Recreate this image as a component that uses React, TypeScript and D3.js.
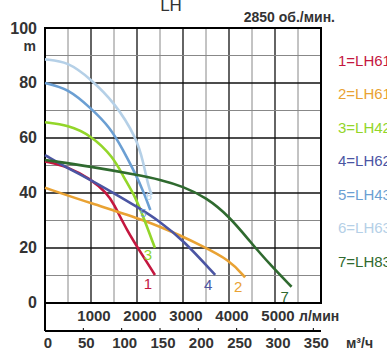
import React, { useEffect, useRef } from "react";
import * as d3 from "d3";

// pump curves, flow in l/min, head in m
const curve1 = [[0, 51.5], [500, 49.6], [1000, 45], [1340, 40], [1490, 36.3], [1775, 26.5], [2140, 16.8], [2390, 10.2]];
const curve2 = [[0, 41.9], [1000, 36.2], [2170, 30.2], [3000, 24.1], [3370, 21.1], [4020, 15.6], [4350, 9.3]];
const curve3 = [[0, 65.7], [500, 64.7], [1000, 61], [1490, 53], [1700, 46], [1920, 40], [2100, 33], [2390, 20]];
const curve4 = [[0, 53.8], [500, 49], [1000, 44.7], [1500, 39.9], [2000, 35], [2500, 29.6], [3000, 22.9], [3700, 10.2]];
const curve5 = [[0, 80], [500, 78], [1000, 70.8], [1410, 64], [1700, 55.6], [1960, 47.2], [2140, 40.5], [2290, 33.8]];
const curve6 = [[0, 88.6], [500, 87.8], [1000, 81.3], [1500, 73.2], [2000, 59.9], [2140, 50.8], [2250, 42.3], [2320, 39.3]];
const curve7 = [[0, 52], [1000, 49.6], [2000, 46.6], [2500, 44.9], [3000, 42.4], [3500, 38.4], [4000, 31.6], [4460, 22.3], [4890, 14], [5360, 5.9]];

const seriesNames = ["1=LH610", "2=LH611", "3=LH420", "4=LH620", "5=LH430", "6=LH630", "7=LH830"];
const seriesColors = ["#c4173f", "#e9a233", "#93d62a", "#4b55a3", "#6b9fd3", "#b5d0e7", "#2f6a2f"];
const seriesData = [curve1, curve2, curve3, curve4, curve5, curve6, curve7];

const headTicks = [0, 20, 40, 60, 80, 100];
const lpmTicks = [1000, 2000, 3000, 4000, 5000];
const m3hTicks = [0, 50, 100, 150, 200, 250, 300, 350];

const App = () => {
  const ref = useRef<SVGSVGElement>(null);

  useEffect(() => {
    document.body.style.margin = "0";
    const svg = d3.select(ref.current);
    svg.selectAll("*").remove();

    const left = 45, right = 321, top = 28, bottom = 303, axisBottom = 331;
    const x = d3.scaleLinear().domain([0, 6000]).range([left, right]);
    const xm = d3.scaleLinear().domain([0, 360]).range([left, right]);
    const y = d3.scaleLinear().domain([0, 100]).range([bottom, top]);
    const font = "'Liberation Sans', Arial, sans-serif";

    // grid
    const g = svg.append("g");
    d3.range(500, 6000, 500).forEach((v) => {
      const major = v % 1000 === 0;
      g.append("line")
        .attr("x1", x(v)).attr("x2", x(v)).attr("y1", top).attr("y2", bottom)
        .attr("stroke", major ? "#111" : "#888").attr("stroke-width", major ? 1.3 : 1);
    });
    d3.range(10, 100, 10).forEach((v) => {
      const major = v % 20 === 0;
      g.append("line")
        .attr("x1", left).attr("x2", right).attr("y1", y(v)).attr("y2", y(v))
        .attr("stroke", major ? "#111" : "#888").attr("stroke-width", major ? 1.3 : 1);
    });

    // frame
    g.append("path")
      .attr("d", `M${left},${axisBottom}V${top}H${right}V${bottom}H${left}M${left},${axisBottom}H${right}`)
      .attr("fill", "none").attr("stroke", "#000").attr("stroke-width", 2);

    // m3/h ticks
    m3hTicks.forEach((v) => {
      g.append("line")
        .attr("x1", xm(v)).attr("x2", xm(v)).attr("y1", axisBottom).attr("y2", axisBottom - 3)
        .attr("stroke", "#000").attr("stroke-width", 1);
    });

    // curves
    const line = d3.line<number[]>()
      .x((d) => x(d[0]))
      .y((d) => y(d[1]))
      .curve(d3.curveBasis);

    seriesData.forEach((data, i) => {
      svg.append("path")
        .attr("d", line(data))
        .attr("fill", "none")
        .attr("stroke", seriesColors[i])
        .attr("stroke-width", 2.6);
    });

    // curve number labels near the curve ends
    const labelOffsets = [[-7, 10], [-7, 11], [-7, 8], [-7, 11], [-7, 4], [-3, 2], [-7, 11]];
    seriesData.forEach((data, i) => {
      const last = data[data.length - 1];
      const small = i === 4 || i === 5;
      svg.append("text")
        .attr("x", x(last[0]) + labelOffsets[i][0])
        .attr("y", y(last[1]) + labelOffsets[i][1])
        .attr("dominant-baseline", "middle")
        .attr("text-anchor", "middle")
        .attr("font-family", font)
        .attr("font-size", small ? 11 : 15)
        .attr("fill", seriesColors[i])
        .text(String(i + 1));
    });

    // y labels
    headTicks.forEach((v) => {
      svg.append("text")
        .attr("x", 37).attr("y", y(v) + (v === 100 ? 2 : 1))
        .attr("text-anchor", "end").attr("dominant-baseline", "middle")
        .attr("font-family", font).attr("font-weight", "bold").attr("font-size", 16)
        .attr("fill", "#333").text(String(v));
    });
    svg.append("text")
      .attr("x", 36).attr("y", 47)
      .attr("text-anchor", "end").attr("dominant-baseline", "middle")
      .attr("font-family", font).attr("font-weight", "bold").attr("font-size", 14)
      .attr("fill", "#333").text("m");

    // l/min labels
    lpmTicks.forEach((v) => {
      svg.append("text")
        .attr("x", x(v) + 3).attr("y", 317)
        .attr("text-anchor", "middle").attr("dominant-baseline", "middle")
        .attr("font-family", font).attr("font-weight", "bold").attr("font-size", 15)
        .attr("fill", "#333").text(String(v));
    });
    svg.append("text")
      .attr("x", 299).attr("y", 317).attr("dominant-baseline", "middle")
      .attr("font-family", font).attr("font-weight", "bold").attr("font-size", 14)
      .attr("fill", "#333").text("л/мин");

    // m3/h labels
    m3hTicks.forEach((v) => {
      svg.append("text")
        .attr("x", xm(v) + 3).attr("y", 344)
        .attr("text-anchor", "middle").attr("dominant-baseline", "middle")
        .attr("font-family", font).attr("font-weight", "bold").attr("font-size", 15)
        .attr("fill", "#333").text(String(v));
    });
    svg.append("text")
      .attr("x", 346).attr("y", 344).attr("dominant-baseline", "middle")
      .attr("font-family", font).attr("font-weight", "bold").attr("font-size", 14)
      .attr("fill", "#333").text("м³/ч");

    // titles
    svg.append("text")
      .attr("x", 171).attr("y", 11).attr("text-anchor", "middle")
      .attr("font-family", font).attr("font-size", 17).attr("fill", "#333").text("LH");
    svg.append("text")
      .attr("x", 335).attr("y", 22).attr("text-anchor", "end")
      .attr("font-family", font).attr("font-weight", "bold").attr("font-size", 14)
      .attr("fill", "#333").text("2850 об./мин.");

    // legend
    seriesNames.forEach((name, i) => {
      svg.append("text")
        .attr("x", 338).attr("y", 62 + i * 33.5)
        .attr("dominant-baseline", "middle")
        .attr("font-family", font).attr("font-size", 15)
        .attr("fill", seriesColors[i]).text(name);
    });
  }, []);

  return <svg ref={ref} width={387} height={356} style={{ display: "block" }} />;
};

export default App;
